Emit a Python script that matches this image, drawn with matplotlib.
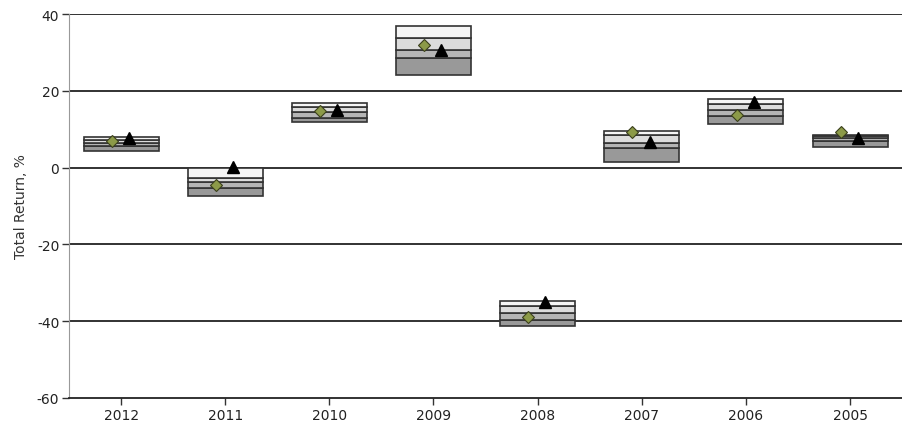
import matplotlib
matplotlib.use("Agg")
import matplotlib.pyplot as plt
import numpy as np

plt.rcParams["axes.unicode_minus"] = False
plt.rcParams["font.family"] = ["DejaVu Sans"]

years = ["2012", "2011", "2010", "2009", "2008", "2007", "2006", "2005"]
p95 = [8.0, -0.1, 16.9, 36.8, -34.8, 9.6, 17.9, 8.5]
p75 = [7.2, -2.7, 15.8, 33.7, -36.0, 8.6, 16.6, 8.1]
p50 = [6.4, -3.8, 14.5, 30.6, -37.9, 6.5, 15.1, 7.6]
p25 = [5.6, -5.2, 13.0, 28.5, -39.7, 5.1, 13.5, 7.0]
p05 = [4.4, -7.5, 12.0, 24.1, -41.3, 1.4, 11.4, 5.3]
diamond = [7.0, -4.5, 14.8, 31.9, -39.0, 9.2, 13.7, 9.2]
triangle = [7.8, 0.1, 14.9, 30.5, -34.9, 6.7, 17.0, 7.8]

band_colors = ["#999999", "#b5b5b5", "#dcdcdc", "#f5f5f5"]

fig = plt.figure(figsize=(9.03, 4.27), dpi=100)
ax = fig.add_axes([69/903, 28/427, 1 - 69/903 - 0.001, 384/427])

x = np.arange(len(years))
w = 0.72
ax.set_ylim(-60, 40)
ax.set_xlim(-0.5, len(years) - 0.5)

for yv in [40, 20, 0, -20, -40]:
    ax.axhline(yv, color="#222222", lw=1.3, zorder=1)

levels = [p05, p25, p50, p75, p95]
for i in range(len(years)):
    for b in range(4):
        lo = levels[b][i]
        hi = levels[b + 1][i]
        ax.bar(x[i], hi - lo, bottom=lo, width=w, color=band_colors[b],
               edgecolor="#333333", linewidth=1.2, zorder=2)

ax.plot(x - 0.09, diamond, linestyle="none", marker="D", markersize=6.5,
        markerfacecolor="#8c9a48", markeredgecolor="#3a3f1c", markeredgewidth=0.8, zorder=4)
ax.plot(x + 0.075, triangle, linestyle="none", marker="^", markersize=8.5,
        markerfacecolor="black", markeredgecolor="black", zorder=4)

ax.set_xticks(x)
ax.set_xticklabels(years)
ax.set_yticks([40, 20, 0, -20, -40, -60])
ax.tick_params(axis="both", labelsize=10, color="#333333", labelcolor="#222222",
               length=5, width=1, pad=2)
for s in ["top", "right"]:
    ax.spines[s].set_visible(False)
ax.spines["left"].set_color("#999999")
ax.spines["left"].set_linewidth(0.8)
ax.spines["bottom"].set_color("#222222")
ax.spines["bottom"].set_linewidth(1.3)
ax.set_ylabel("Total Return, %", fontsize=10, color="#333333", labelpad=6)

fig.savefig("out.png", dpi=100)
